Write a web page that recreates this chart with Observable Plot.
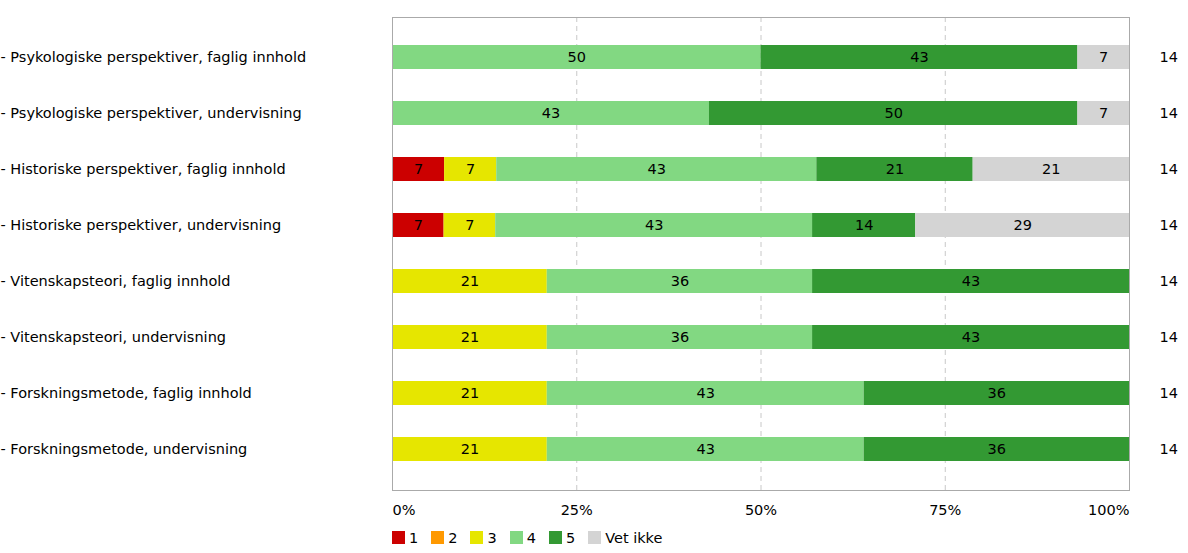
<!DOCTYPE html>
<html>
<head>
<meta charset="utf-8">
<script src="https://cdn.jsdelivr.net/npm/d3@7"></script>
<script src="https://cdn.jsdelivr.net/npm/@observablehq/plot@0.6"></script>
<style>
  html, body { margin: 0; padding: 0; background: #fff; }
  #chart { width: 1188px; font-family: "DejaVu Sans", sans-serif; }
  #chart .lg-swatch { margin-right: 13px !important; color: #000; }
  #chart .lg-swatch svg { margin-right: 4px !important; }
</style>
</head>
<body>
<div id="chart"></div>
<script>
const items = [
  "- Psykologiske perspektiver, faglig innhold",
  "- Psykologiske perspektiver, undervisning",
  "- Historiske perspektiver, faglig innhold",
  "- Historiske perspektiver, undervisning",
  "- Vitenskapsteori, faglig innhold",
  "- Vitenskapsteori, undervisning",
  "- Forskningsmetode, faglig innhold",
  "- Forskningsmetode, undervisning"
];
const cats = ["1", "2", "3", "4", "5", "Vet ikke"];
const colors = ["#cc0000", "#ff9900", "#e6e600", "#82d882", "#339933", "#d4d4d4"];
const v1 = [0, 0, 7, 7, 0, 0, 0, 0];
const v2 = [0, 0, 0, 0, 0, 0, 0, 0];
const v3 = [0, 0, 7, 7, 21, 21, 21, 21];
const v4 = [50, 43, 43, 43, 36, 36, 43, 43];
const v5 = [43, 50, 21, 14, 43, 43, 36, 36];
const vVetIkke = [7, 7, 21, 29, 0, 0, 0, 0];
const nResp = [14, 14, 14, 14, 14, 14, 14, 14];
const xTicks = [0, 0.25, 0.5, 0.75, 1];

const series = [v1, v2, v3, v4, v5, vVetIkke];
const rows = [];
items.forEach((item, i) => {
  series.forEach((s, k) => {
    if (s[i] > 0) rows.push({item, cat: cats[k], value: s[i]});
  });
});
const nRows = items.map((item, i) => ({item, n: nResp[i]}));

const font = "'DejaVu Sans', sans-serif";
const fs = 14.5;
const W = 1188, H = 525;
const stack = (o) => Plot.stackX({x: "value", y: "item", z: "cat", order: cats, offset: "normalize", ...o});
const pct = d3.format(".0%");

const chart = Plot.plot({
  width: W,
  height: H,
  marginLeft: 392,
  marginRight: 59,
  marginTop: 17,
  marginBottom: 35,
  style: {fontFamily: font, fontSize: fs + "px", color: "#000", background: "#fff"},
  x: {domain: [0, 1]},
  y: {domain: items, insetTop: 9.5, insetBottom: 11, paddingInner: 0.57, paddingOuter: 0.285},
  color: {domain: cats, range: colors},
  marks: [
    Plot.ruleX([0.25, 0.5, 0.75], {stroke: "#c8c8c8", strokeDasharray: "5,4", strokeWidth: 1}),
    Plot.barX(rows, stack({fill: "cat"})),
    Plot.text(rows, stack({text: d => String(d.value), fill: "#000", fontSize: fs})),
    Plot.frame({stroke: "#aaaaaa", strokeWidth: 1}),
    Plot.axisY({anchor: "left", tickSize: 0, tickPadding: 0, textAnchor: "start", dx: -392, fontSize: fs, label: null}),
    Plot.text(nRows, {y: "item", text: d => String(d.n), frameAnchor: "right", textAnchor: "start", dx: 30, fill: "#000", fontSize: fs}),
    Plot.axisX(xTicks.slice(0, 1), {anchor: "bottom", tickSize: 0, tickPadding: 14, textAnchor: "start", tickFormat: pct, label: null, fontSize: fs}),
    Plot.axisX(xTicks.slice(1, 4), {anchor: "bottom", tickSize: 0, tickPadding: 14, textAnchor: "middle", tickFormat: pct, label: null, fontSize: fs}),
    Plot.axisX(xTicks.slice(4), {anchor: "bottom", tickSize: 0, tickPadding: 14, textAnchor: "end", tickFormat: pct, label: null, fontSize: fs})
  ]
});
document.getElementById("chart").appendChild(chart);

const legend = Plot.legend({
  color: {domain: cats, range: colors},
  legend: "swatches",
  swatchSize: 13,
  marginLeft: 392,
  className: "lg",
  style: {fontFamily: font, fontSize: fs + "px", marginTop: "-4px", color: "#000"}
});
document.getElementById("chart").appendChild(legend);
// tighten legend item spacing (library default is 1em / 0.5em)
legend.querySelectorAll("[class$='-swatch']").forEach(el => {
  el.style.marginRight = "13px";
  const sw = el.querySelector("svg");
  if (sw) sw.style.marginRight = "4px";
});
</script>
</body>
</html>
